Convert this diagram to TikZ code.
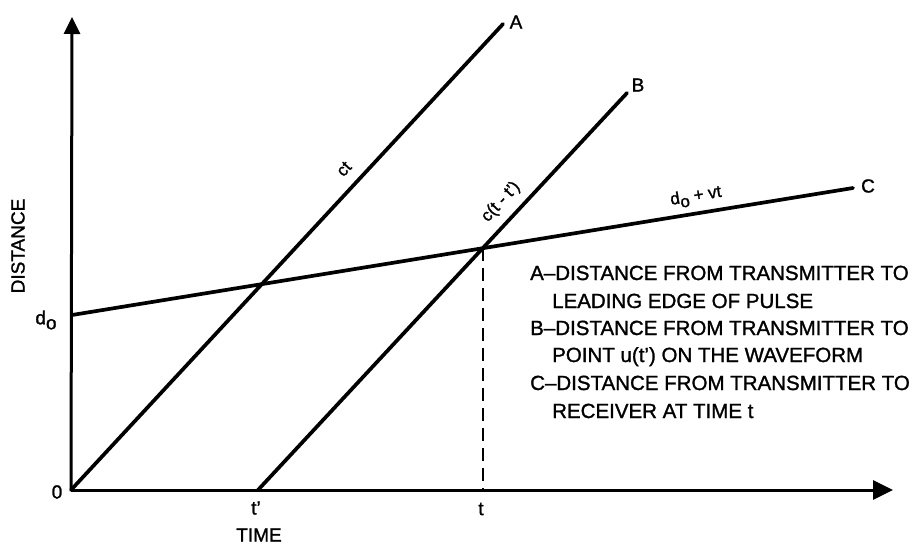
\documentclass[tikz,border=0pt]{standalone}
\usepackage{fontspec}
\setmainfont{Liberation Sans}
\newfontfamily\medfont{Liberation Sans}[FakeBold=1.3]
\usetikzlibrary{arrows.meta,calc}
\begin{document}
\begin{tikzpicture}[x=1pt,y=-1pt,
  curve/.style={line width=3.7pt, line cap=round},
  axisline/.style={line width=3pt},
  lbl/.style={font=\medfont\fontsize{19}{22}\selectfont, inner sep=0pt},
  smalllbl/.style={font=\medfont\fontsize{17}{20}\selectfont, inner sep=0pt},
  legend/.style={font=\medfont\fontsize{20.5}{24}\selectfont, inner sep=0pt, anchor=base west},
  guide/.style={line width=2.2pt, dash pattern=on 13pt off 7pt}]
\useasboundingbox (0,0) rectangle (912,544);
% key points
\coordinate (O) at (71,490);
\coordinate (ytip) at (72,17);
\coordinate (xtip) at (893,490);
\coordinate (Atop) at (503,24);
\coordinate (Bstart) at (258,490);
\coordinate (Btop) at (627,93);
\coordinate (Cstart) at (72,315);
\coordinate (Cend) at (853,188);
\coordinate (X) at (intersection of Bstart--Btop and Cstart--Cend);
\coordinate (Xfoot) at (O -| X);
% axes
\draw[axisline, -{Triangle[length=17pt,width=16pt]}] (O) -- (ytip);
\draw[axisline, -{Triangle[length=20pt,width=19pt]}] (O) -- (xtip);
% lines
\draw[curve] (O) -- (Atop);
\draw[curve] (Bstart) -- (Btop);
\draw[curve] (Cstart) -- (Cend);
\draw[guide] (X) -- (Xfoot);
% line end labels
\node[lbl] (labA) at (516,22) {A};
\node[lbl] (labB) at (638,85) {B};
\node[lbl] (labC) at (868,186) {C};
% line labels
\node[smalllbl, rotate=47.2] (labct) at (344,169) {ct};
\node[smalllbl, rotate=47.2] (labctt) at (501,202) {c(t - t’)};
\node[smalllbl, rotate=9.2] (labdvt) at (696,197) {d\raisebox{-0.5ex}{o} + vt};
% axis labels
\node[lbl] (zero) at (57,492) {0};
\node[lbl] (do) at (46,320) {d\raisebox{-0.5ex}{o}};
\node[lbl] (tp) at (256,508) {t’};
\node[lbl] (tt) at (481,509) {t};
\node[lbl] (time) at (259,535) {TIME};
\node[lbl, rotate=90] (dist) at (18,246) {DISTANCE};
% legend
\node[legend] (l1) at (530,280) {A–DISTANCE FROM TRANSMITTER TO};
\node[legend] (l2) at (552,308) {LEADING EDGE OF PULSE};
\node[legend] (l3) at (530,335) {B–DISTANCE FROM TRANSMITTER TO};
\node[legend] (l4) at (552,362) {POINT u(t’) ON THE WAVEFORM};
\node[legend] (l5) at (530,390) {C–DISTANCE FROM TRANSMITTER TO};
\node[legend] (l6) at (552,418) {RECEIVER AT TIME t};
\end{tikzpicture}
\end{document}
